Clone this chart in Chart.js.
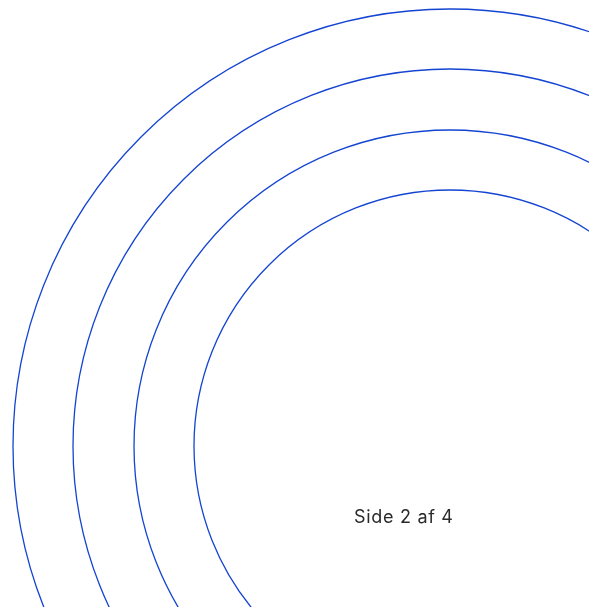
<!DOCTYPE html>
<html>
<head>
<meta charset="utf-8">
<script src="https://cdn.jsdelivr.net/npm/chart.js@4.4.1/dist/chart.umd.min.js"></script>
<style>
  html, body { margin: 0; padding: 0; background: #fff; overflow: hidden; }
  #wrap { position: relative; width: 589px; height: 607px; }
  #ringsChart { display: block; }
  #pageLabel {
    position: absolute; left: 354px; top: 506px;
    font-family: Inter, "Open Sans", sans-serif; font-size: 18px; letter-spacing: 0.7px; color: #2a2a2a;
  }
</style>
</head>
<body>
<div id="wrap">
  <canvas id="ringsChart" width="589" height="607"></canvas>
  <div id="pageLabel">Side 2 af 4</div>
</div>
<script>
// ring centre and radii (px)
const centerX = [450];
const centerY = [446];
const radii = [437, 377, 316, 256];

const ctx = document.getElementById('ringsChart');

new Chart(ctx, {
    type: 'bubble',
    data: {
        datasets: [{
            data: radii.map(r => ({ x: centerX[0], y: centerY[0], r: r })),
            borderColor: '#1444d2',
            backgroundColor: 'transparent',
            borderWidth: 1.3,
            clip: false
        }]
    },
    options: {
        responsive: false,
        animation: false,
        events: [],
        layout: { padding: 0, autoPadding: false },
        plugins: {
            legend: { display: false },
            tooltip: { enabled: false }
        },
        scales: {
            x: { type: 'linear', min: 0, max: 589, display: false },
            y: { type: 'linear', min: 0, max: 607, reverse: true, display: false }
        }
    }
});
</script>
</body>
</html>
